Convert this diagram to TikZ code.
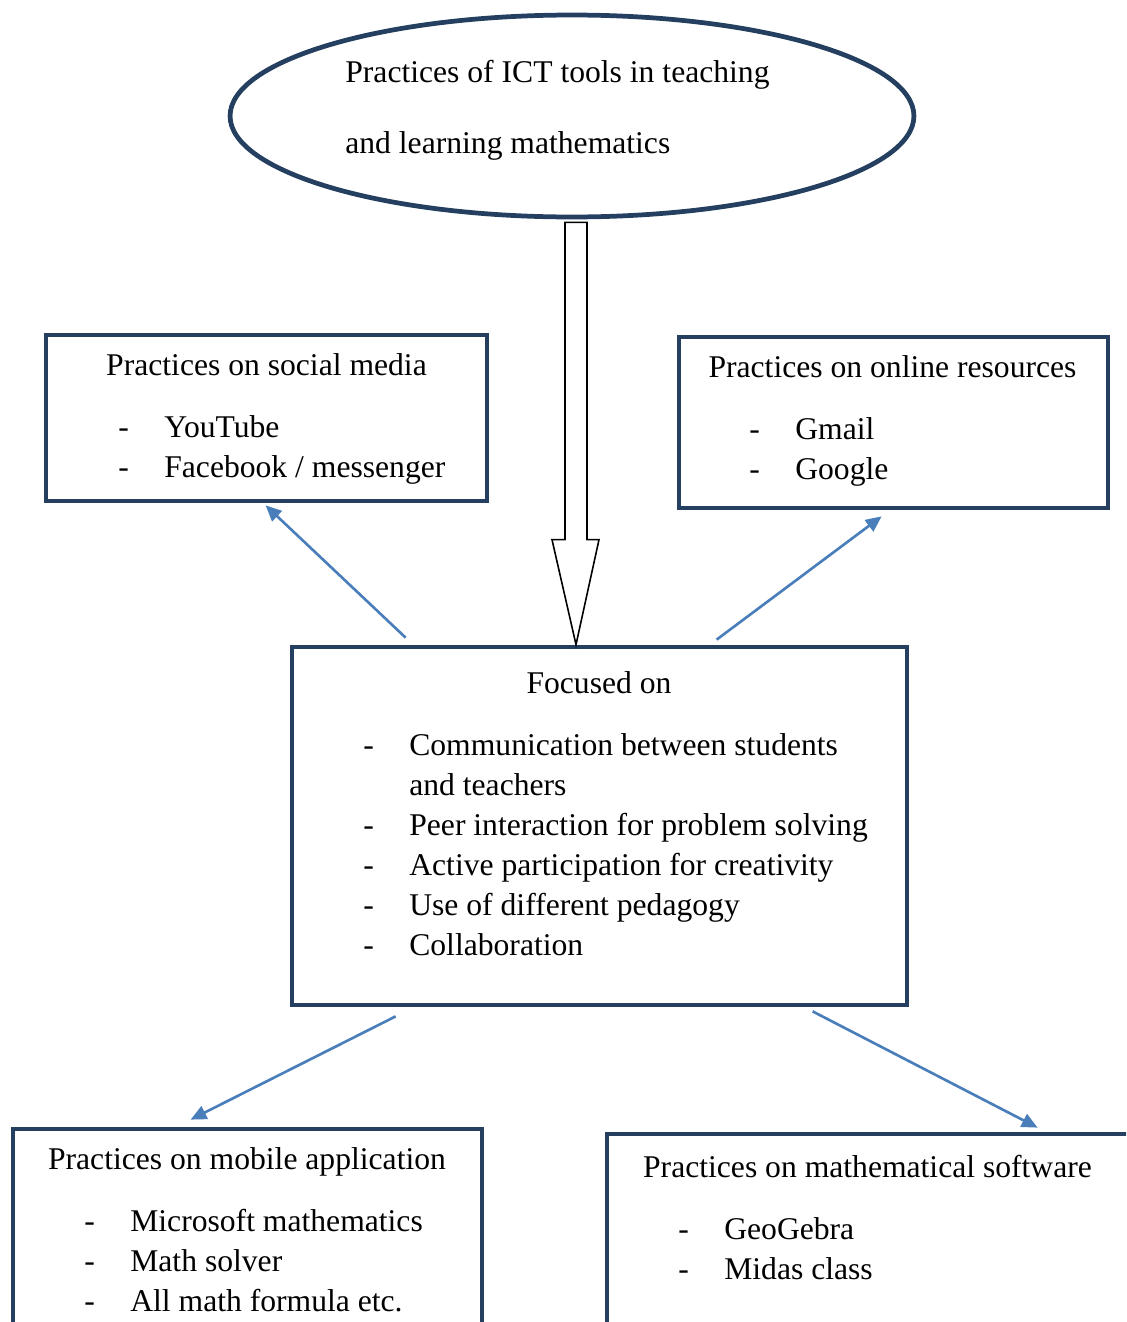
\documentclass[tikz,border=0pt]{standalone}
\usepackage{fontspec}
\setmainfont{Liberation Serif}
\usetikzlibrary{arrows.meta,calc,fit,shapes.geometric}

\definecolor{boxblue}{HTML}{243F60}
\definecolor{linkblue}{HTML}{4A7EBB}

\tikzset{
  box/.style={draw=boxblue, line width=2.7pt, inner sep=0pt},
  link/.style={draw=linkblue, line width=1.5pt, -{Triangle[length=9pt,width=8pt]}},
  txt/.style={inner sep=0pt, font=\fontsize{18}{22.8}\selectfont},
  head/.style={txt, anchor=base},
  items/.style={txt, anchor=base west},
}

% dash list: "-" then a tab stop
\newcommand{\dashlist}[1]{\begin{tabular}[t]{@{}p{0.92cm}@{}l@{}}#1\end{tabular}}

\begin{document}
\begin{tikzpicture}[x=0.02cm, y=-0.02cm]
    \useasboundingbox (0,0) rectangle (1126,1322);
    \clip (0,0) rectangle (1126,1322);
    % main topic
    \node[box, ellipse, minimum width=13.68cm, minimum height=4.04cm] (topic) at (572,116) {};
    \node[items] (topic1) at (345,82) {Practices of ICT tools in teaching};
    \node[items] (topic2) at (345,153) {and learning mathematics};
    % the four kinds of practice and the central box
    \node[box, fit={(46,335) (487,501)}] (social) {};
    \node[box, fit={(679,337) (1108,508)}] (online) {};
    \node[box, fit={(292,647) (907,1005)}] (focus) {};
    \node[box, fit={(13,1129) (482,1420)}] (mobile) {};
    \node[box, fit={(607,1134) (1200,1420)}] (software) {};
    % texts in the boxes
    \node[head] (social-t) at (266.5,375) {Practices on social media};
    \node[items] (social-l) at (118,437) {\dashlist{- & YouTube\\ - & Facebook / messenger}};
    \node[head] (online-t) at (892.5,377) {Practices on online resources};
    \node[items] (online-l) at (749,439) {\dashlist{- & Gmail\\ - & Google}};
    \node[head] (focus-t) at (599,693) {Focused on};
    \node[items] (focus-l) at (363,755) {\dashlist{- & Communication between students\\
        & and teachers\\ - & Peer interaction for problem solving\\
        - & Active participation for creativity\\ - & Use of different pedagogy\\
        - & Collaboration}};
    \node[head] (mobile-t) at (247,1169) {Practices on mobile application};
    \node[items] (mobile-l) at (84,1231) {\dashlist{- & Microsoft mathematics\\ - & Math solver\\
        - & All math formula etc.}};
    \node[head] (software-t) at (867.5,1177) {Practices on mathematical software};
    \node[items] (software-l) at (678,1239) {\dashlist{- & GeoGebra\\ - & Midas class}};
    % hollow block arrow down from the topic
    \coordinate (shafttop) at ($(topic.south)+(4,3)$);
    \coordinate (tip) at (shafttop |- focus.north);
    \draw[line width=0.9pt, line join=miter] ($(shafttop)+(-11,0)$) -- ($(tip)+(-11,-105)$)
        -- ($(tip)+(-24,-105)$) -- (tip) -- ($(tip)+(23,-105)$) -- ($(tip)+(11,-105)$)
        -- ($(shafttop)+(11,0)$) -- cycle;
    % links out of the central box
    \draw[link] ($(focus.north west)+(116,-7)$) -- ($(social.south west)+(222,2)$);
    \draw[link] ($(focus.north west)+(427,-5)$) -- ($(online.south west)+(205,6)$);
    \draw[link] ($(focus.south west)+(106,9)$) -- ($(mobile.north west)+(180,-7)$);
    \draw[link] ($(focus.south west)+(523,4)$) -- ($(software.north west)+(433,-4)$);
\end{tikzpicture}
\end{document}
